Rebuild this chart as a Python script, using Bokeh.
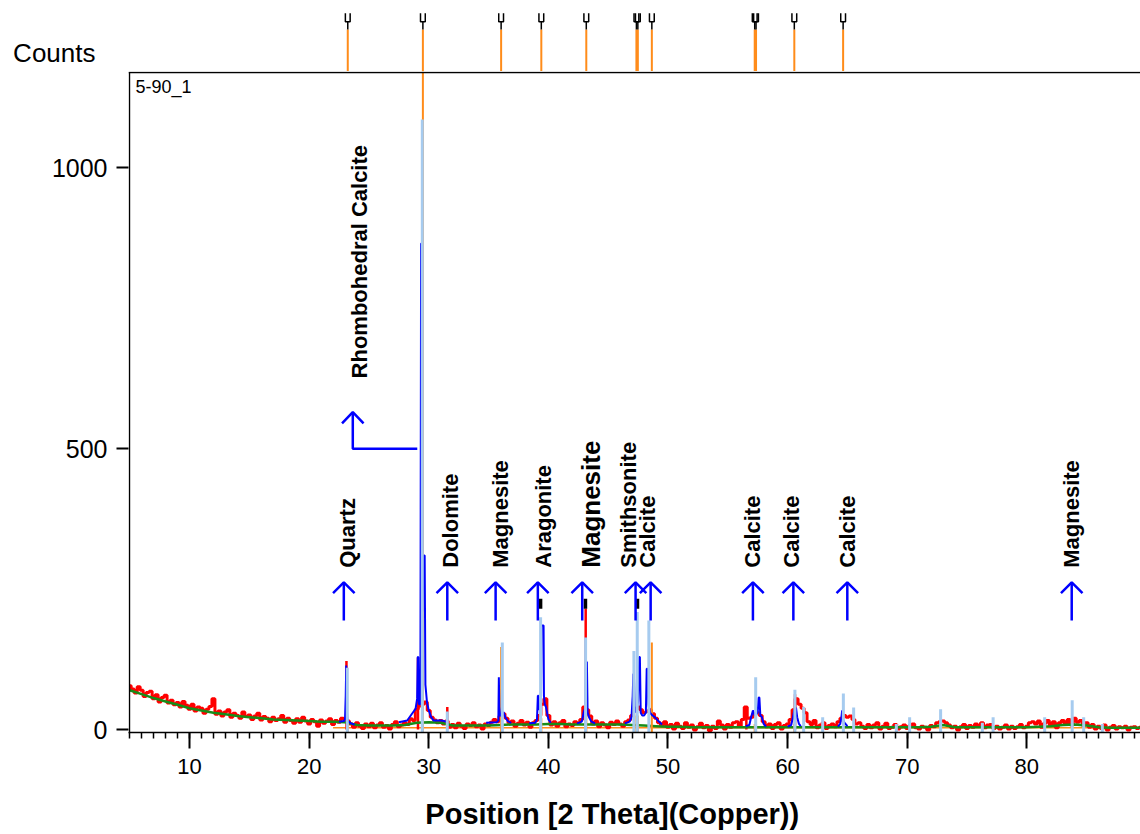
import math
from bokeh.plotting import figure
from bokeh.layouts import column
from bokeh.models import Range1d, SingleIntervalTicker, FixedTicker, ColumnDataSource
from bokeh.core.properties import value
from bokeh.embed import file_html
from bokeh.resources import INLINE

# ---------------- data ----------------
# observed scan, 0.25 deg steps starting at 5.0 deg 2theta
scan_start = 5.0
scan_step = 0.25
observed_counts = [
    78, 72, 65, 76,  70, 59, 66, 68,  55, 62, 49, 57,  61, 47, 52, 44,  48, 40, 50, 43,
    36, 45, 33, 40,  38, 29, 36, 41,  55, 27, 33, 24,  31, 35, 22, 29,  25, 20, 31, 23,
    26, 18, 24, 29,  17, 23, 20, 14,  22, 16, 19, 25,  13, 20, 16, 11,  19, 13, 22, 15,
    10, 18, 14, 6,   17, 11, 15, 19,  9, 16, 13, 20,   17, 15, 10, 4,   12, 6, 2, 10,
    5, 11, 3, 8,     12, 4, 7, 1,     9, 14, 5, 8,     12, 9, 19, 16,   36, 42, 45, 49,
    34, 22, 17, 12,  16, 10, 15, 4,   9, 3, 11, 6,     2, 10, 7, 12,    5, 8, 1, 10,
    7, 13, 18, 14,   24, 28, 20, 12,  15, 6, 11, 16,   8, 13, 4, 12,    16, 25, 45, 55,
    25, 8, 14, 6,    12, 16, 5, 10,   7, 14, 11, 18,   40, 35, 24, 10,  15, 5, 12, 8,
    3, 13, 9, 15,    10, 6, 14, 17,   25, 35, 40, 35,  30, 32, 35, 28,  20, 12, 7, 14,
    4, 9, 1, 11,     6, 2, 12, 4,     8, -1, 5, 11,    3, 7, -2, 6,     2, 15, 8, 1,
    9, 4, 12, 14,    6, 18, 40, 20,   22, 28, 30, 25,  14, 5, 10, 2,    9, 12, 1, 7,
    10, 18, 35, 55,  45, 38, 30, 14,  9, 16, 3, 8,     12, 2, 7, 10,    5, 14, 20, 25,
    22, 24, 18, 10,  12, 6, 2, 9,     3, 8, 12, 1,     6, 11, 2, 4,     9, 1, 5, 8,
    2, 7, 10, 3,     1, 6, 4, -1,     7, 5, 12, 14,    15, 12, 8, 3,    6, -1, 5, 9,
    2, 7, 4, 10,     6, 12, 3, 8,     9, 2, 6, 1,      4, 8, 1, 6,      2, 5, 9, 3,
    6, 12, 14, 10,   15, 4, 11, 16,   7, 14, 3, 12,    16, 9, 18, 8,    20, 13, 16, 7,
    12, 4, 9, 1,     6, 2, 8, -1,     4, 7, 1, 5,      3, 6, -1, 4,     5, 2, 4,
]

# fitted background
background_2theta = list(range(5, 90)) + [89.5]
background_counts = [
    70, 63, 56, 50, 44, 38, 34, 30, 27, 24, 22, 20, 18, 17, 16, 15, 14, 14, 13, 8,
    7, 7, 7, 8, 12, 13, 12, 7, 7, 7, 7, 8, 9, 9, 9, 10, 10, 9, 9, 9,
    9, 9, 8, 7, 6, 5, 5, 4, 4, 4, 4, 4, 4, 4, 4, 4, 4, 4, 4, 4,
    4, 4, 4, 4, 4, 4, 4, 5, 8, 4, 4, 4, 4, 4, 4, 4, 5, 6, 8, 9,
    7, 4, 3, 3, 3, 3,
]

# observed maxima of the sharp reflections
obs_peak_2theta = [23.12, 29.10, 31.55, 43.12, 56.55, 60.62]
obs_peak_counts = [122, 128, 40, 215, 40, 63]

# calculated profile in the fitted windows (nan separates windows)
nan = float("nan")
calc_2theta = [
    22.5, 22.9, 23.0, 23.06, 23.1, 23.14, 23.2, 23.3, 23.5, 23.8, nan,
    27.5, 28.2, 28.6, 28.9, 29.03, 29.08, 29.12, 29.18, 29.3, 29.36, 29.4, 29.46, 29.56,
    29.6, 29.66, 29.72, 29.85, 30.0, 30.2, 30.4, 31.0, 31.3, 31.45, 31.6, nan,
    34.8, 35.7, 35.82, 35.86, 35.9, 35.98, 36.15, 36.25, 36.4, 36.6, 36.9, nan,
    38.4, 38.9, 39.05, 39.12, 39.17, 39.24, 39.38, 39.42, 39.6, 39.63, 39.7, 39.8, 40.0, 40.2, nan,
    42.4, 42.8, 42.95, 43.1, 43.16, 43.22, 43.28, 43.4, 43.6, 43.9, nan,
    46.4, 46.8, 46.95, 47.05, 47.1, 47.15, 47.22, 47.35, 47.5, 47.6, 47.65, 47.72, 47.85,
    48.0, 48.15, 48.22, 48.28, 48.36, 48.5, 48.7, 48.9, 49.2, 49.5, nan,
    56.5, 56.8, 56.95, 57.1, 57.25, 57.5, 57.58, 57.64, 57.72, 57.85, 58.0, 58.2, nan,
    60.0, 60.3, 60.45, 60.55, 60.7, 60.8, 60.95, 61.1, nan,
    64.2, 64.4, 64.5, 64.56, 64.62, 64.75, 65.0,
]
calc_counts = [
    14, 15, 18, 60, 114, 40, 19, 14, 11, 9, nan,
    13, 16, 28, 37, 55, 129, 129, 45, 45, 865, 865, 210, 300,
    310, 310, 80, 49, 34, 22, 16, 16, 15, 14, 10, nan,
    12, 13, 16, 93, 40, 24, 28, 31, 22, 15, 12, nan,
    11, 12, 18, 60, 60, 35, 40, 185, 185, 60, 45, 40, 18, 12, nan,
    11, 14, 30, 40, 120, 120, 30, 22, 14, 11, nan,
    11, 14, 22, 60, 99, 99, 40, 30, 50, 129, 129, 30, 25,
    25, 30, 108, 108, 45, 30, 25, 22, 15, 9, nan,
    6, 8, 22, 34, 25, 30, 57, 57, 25, 22, 10, 5, nan,
    5, 8, 22, 34, 39, 22, 10, 6, nan,
    5, 10, 22, 34, 18, 12, 6,
]

# reference pattern sticks (light blue)
ref1_2theta = [23.19, 29.46, 31.55, 36.15, 39.35, 43.11, 47.15, 47.43, 48.40, 57.33,
               60.61, 61.34, 62.93, 64.66, 65.52, 69.09, 70.20, 72.79, 76.28, 77.18,
               81.49, 83.79, 84.75, 86.31]
ref1_counts = [110, 1086, 32, 155, 200, 164, 140, 209, 194, 93,
               71, 40, 22, 64, 39, 10, 22, 36, 12, 22,
               22, 52, 22, 10]

# reference pattern sticks (orange), also listed in the header strip
ref2_2theta = [23.23, 29.51, 36.05, 39.41, 43.17, 47.36, 47.48, 48.65, 57.25, 57.36, 60.56, 64.64]
ref2_counts = [15, 1500, 147, 20, 30, 25, 25, 155, 10, 10, 10, 10]

# peak-list marks
mark_2theta = [39.35, 43.10, 47.45]
mark_counts = [224, 224, 224]

# phase identification
phase_names = ["Quartz", "Dolomite", "Magnesite", "Aragonite", "Magnesite", "Smithsonite",
               "Calcite", "Calcite", "Calcite", "Calcite", "Magnesite"]
phase_arrow_2theta = [22.9, 31.55, 35.59, 39.12, 42.83, 47.29, 48.55, 57.1, 60.48, 64.99, 83.75]
phase_label_2theta = [23.18, 31.82, 36.0, 39.62, 43.53, 46.71, 48.27, 57.05, 60.31, 64.99, 83.75]
phase_label_size = ["22px", "22px", "22px", "22px", "26px", "22px",
                    "22px", "22px", "22px", "22px", "22px"]

main_phase = "Rhombohedral Calcite"
main_phase_2theta = 29.04   # where the leader leaves the main reflection
main_phase_level = 500

x_title = "Position [2 Theta](Copper))"

# ---------------- styles ----------------
RED = "#ff0000"
GREEN = "#188c18"
BLUE = "#0000ff"
LIGHT_BLUE = "#a6cbef"
ORANGE = "#ff8c1a"
FONT = "Liberation Sans"

Y_BOTTOM = -5.3
Y_TOP = 1171.4          # top of the pattern panel
BOX_TOP = 1169.7        # top edge line of the pattern box
STRIP_TOP = 1246.0      # header sticks end here
MARK_TOP = 1275.0
X_RANGE = Range1d(4.9, 89.5)


def bare(fig):
    fig.outline_line_color = None
    fig.grid.visible = False
    fig.background_fill_color = "white"
    fig.border_fill_color = "white"


# ---------------- header strip ----------------
head = figure(width=1140, height=71, output_backend="svg", toolbar_location=None,
              x_range=X_RANGE, y_range=Range1d(Y_TOP, 1297.8), x_axis_location=None,
              min_border_left=128, min_border_right=0, min_border_top=0, min_border_bottom=0)
bare(head)
head.yaxis.ticker = FixedTicker(ticks=[1191])
head.yaxis.major_label_overrides = {1191: "Counts"}
head.yaxis.axis_line_color = None
head.yaxis.major_tick_line_color = None
head.yaxis.minor_tick_line_color = None
head.yaxis.major_tick_out = 0
head.yaxis.major_label_standoff = 33
head.yaxis.major_label_text_font = FONT
head.yaxis.major_label_text_font_size = "26px"
head.yaxis.major_label_text_color = "black"

head.segment(x0=ref2_2theta, y0=[Y_TOP] * len(ref2_2theta), x1=ref2_2theta,
             y1=[STRIP_TOP] * len(ref2_2theta), line_color=ORANGE, line_width=2)
mx, my = [], []
for r in ref2_2theta:
    mx.append([r, r]); my.append([STRIP_TOP, 1260])
    mx.append([r - 0.2, r - 0.2, r + 0.2, r + 0.2]); my.append([MARK_TOP, 1260, 1260, MARK_TOP])
head.multi_line(mx, my, line_color="black", line_width=1.5)

# ---------------- pattern panel ----------------
p = figure(width=1140, height=721, output_backend="svg", toolbar_location=None,
           x_range=X_RANGE, y_range=Range1d(Y_BOTTOM, Y_TOP),
           min_border_left=128, min_border_right=0, min_border_top=0, min_border_bottom=60)
bare(p)

# x axis
p.xaxis.ticker = SingleIntervalTicker(interval=10, num_minor_ticks=10)
p.xaxis.axis_line_width = 1.5
p.xaxis.axis_line_color = "black"
p.xaxis.major_tick_in = 0
p.xaxis.major_tick_out = 16
p.xaxis.major_tick_line_width = 2
p.xaxis.minor_tick_in = 0
p.xaxis.minor_tick_out = 6
p.xaxis.minor_tick_line_width = 1.5
p.xaxis.major_label_text_font = FONT
p.xaxis.major_label_text_font_size = "22px"
p.xaxis.major_label_text_color = "black"
p.xaxis.major_label_standoff = 10

# y axis
p.yaxis.ticker = FixedTicker(ticks=[0, 500, 1000])
p.yaxis.axis_line_color = None
p.yaxis.major_tick_in = 0
p.yaxis.major_tick_out = 12
p.yaxis.major_tick_line_width = 2
p.yaxis.minor_tick_line_color = None
p.yaxis.major_label_text_font = FONT
p.yaxis.major_label_text_font_size = "25px"
p.yaxis.major_label_text_color = "black"
p.yaxis.major_label_standoff = 9

# orange baseline of the second reference profile
p.line([22.0, 89.5], [3, 3], line_color=ORANGE, line_width=1.5)

# observed pattern
scan_2theta = [scan_start + i * scan_step for i in range(len(observed_counts))]
p.step(scan_2theta, observed_counts, mode="center", line_color=RED, line_width=3)
p.segment(x0=obs_peak_2theta, y0=[0] * len(obs_peak_2theta), x1=obs_peak_2theta,
          y1=obs_peak_counts, line_color=RED, line_width=2.5)

# background
p.line(background_2theta, background_counts, line_color=GREEN, line_width=2.5)

# orange sticks
p.segment(x0=ref2_2theta, y0=[Y_BOTTOM] * len(ref2_2theta), x1=ref2_2theta,
          y1=[min(c, Y_TOP) for c in ref2_counts], line_color=ORANGE, line_width=2)

# calculated profile
p.line(calc_2theta, calc_counts, line_color=BLUE, line_width=2)

# light-blue sticks
p.segment(x0=ref1_2theta, y0=[Y_BOTTOM] * len(ref1_2theta), x1=ref1_2theta,
          y1=ref1_counts, line_color=LIGHT_BLUE, line_width=3)

# peak-list marks
p.segment(x0=mark_2theta, y0=[c - 9 for c in mark_counts], x1=mark_2theta,
          y1=[c + 9 for c in mark_counts], line_color="black", line_width=3.5)

# phase arrows
SHAFT_LO, TIP, ARM_Y, ARM_DX = 194, 262, 243, 0.9
xs, ys = [], []
for a in phase_arrow_2theta:
    xs.append([a, a]); ys.append([SHAFT_LO, TIP])
    xs.append([a - ARM_DX, a, a + ARM_DX]); ys.append([ARM_Y, TIP, ARM_Y])
# leader for the main reflection
lead_x = 23.65
xs.append([main_phase_2theta, lead_x, lead_x]); ys.append([main_phase_level, main_phase_level, 565])
xs.append([lead_x - ARM_DX, lead_x, lead_x + ARM_DX]); ys.append([545, 565, 545])
p.multi_line(xs, ys, line_color=BLUE, line_width=2.5)

labels = ColumnDataSource(dict(
    x=phase_label_2theta + [24.21],
    y=[288] * len(phase_label_2theta) + [625],
    text=phase_names + [main_phase],
    size=phase_label_size + ["22px"],
))
p.text(x="x", y="y", text="text", source=labels, angle=math.pi / 2,
       text_align="left", text_baseline="middle", text_font=value(FONT),
       text_font_style="bold", text_font_size="size", text_color="black")

# sample name
p.text(x=[5.48], y=[1143], text=["5-90_1"], text_align="left", text_baseline="middle",
       text_font=value(FONT), text_font_size="18px", text_color="black")

# box edges: top and left
p.line([4.9, 89.5], [BOX_TOP, BOX_TOP], line_color="black", line_width=1.5)
p.line([4.98, 4.98], [Y_BOTTOM, BOX_TOP], line_color="black", line_width=1.5)

# ---------------- axis title strip ----------------
foot = figure(width=1140, height=42, output_backend="svg", toolbar_location=None,
              x_range=X_RANGE, y_range=Range1d(0, 42), x_axis_location=None, y_axis_location=None,
              min_border_left=128, min_border_right=0, min_border_top=0, min_border_bottom=0)
bare(foot)
foot.text(x=[45.34], y=[21], text=[x_title], text_align="center", text_baseline="middle",
          text_font=value(FONT), text_font_style="bold", text_font_size="29px", text_color="black")

layout = column(head, p, foot, spacing=0)
open("out.html", "w").write(file_html(layout, INLINE))
